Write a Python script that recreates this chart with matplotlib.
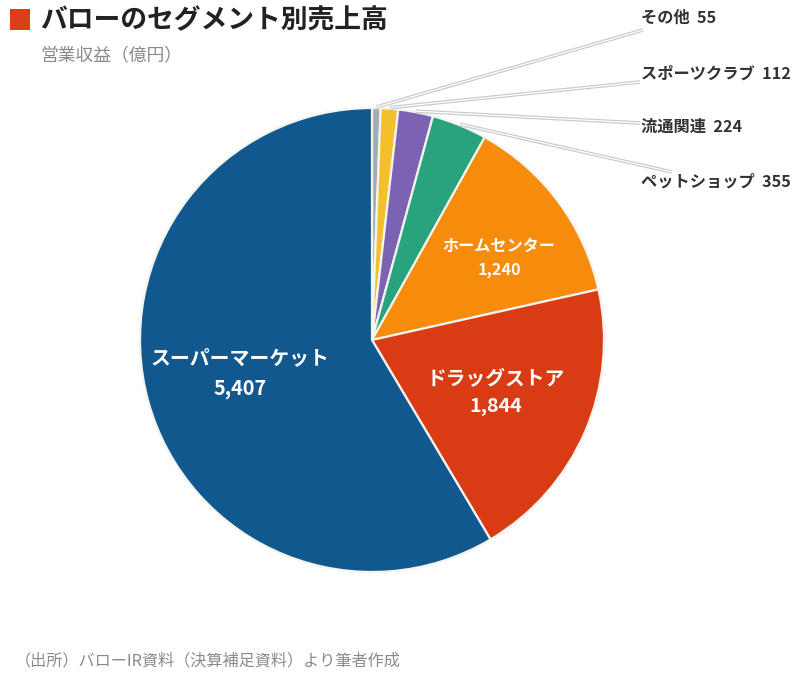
import matplotlib
matplotlib.use("Agg")
import numpy as np
import matplotlib.pyplot as plt
from matplotlib.patches import Rectangle

plt.rcParams['font.family'] = ['Noto Sans CJK JP', 'DejaVu Sans']

# segment data (clockwise from 12 o'clock)
segments = ["その他", "スポーツクラブ", "流通関連", "ペットショップ",
            "ホームセンター", "ドラッグストア", "スーパーマーケット"]
values = [55, 112, 224, 355, 1240, 1844, 5407]
colors = ["#a3adb4", "#f3c02c", "#7b62b3", "#29a37d",
          "#f78b0c", "#d93b15", "#11588f"]

W, H = 800, 677
fig = plt.figure(figsize=(W / 100, H / 100), dpi=100)
ax = fig.add_axes([0, 0, 1, 1])


def py(y):
    return H - y


cx, cy, R = 372, py(340), 232
wedges, _ = ax.pie(values, colors=colors, startangle=90, counterclock=False,
                   center=(cx, cy), radius=R,
                   wedgeprops=dict(edgecolor="#f4f4ee", linewidth=1.6))
ax.set_xlim(0, W)
ax.set_ylim(0, H)
ax.set_aspect("equal")
ax.axis("off")

# inner labels
inner = {4: (499, 258, 11.6), 5: (496, 393, 14.2), 6: (240, 373, 14.3)}
for i, (x, y, fs) in inner.items():
    ax.text(x, py(y), f"{segments[i]}\n{values[i]:,}", color="white",
            fontsize=fs, fontweight="bold", ha="center", va="center",
            linespacing=1.55)

# outer labels with leader lines
label_y = [18, 74, 127, 181]
line_end = [(643, 30), (640, 82), (640, 123), (672, 172)]
for i in range(4):
    w = wedges[i]
    ang = np.deg2rad((w.theta1 + w.theta2) / 2)
    sx, sy = cx + (R + 1) * np.cos(ang), cy + (R + 1) * np.sin(ang)
    ex, ey = line_end[i]
    ax.plot([sx, ex], [sy, py(ey)], color="#c9c9c9", lw=2.6,
            solid_capstyle="butt", zorder=5)
    ax.plot([sx, ex], [sy, py(ey)], color="white", lw=0.9,
            solid_capstyle="butt", zorder=6)
    ax.text(641, py(label_y[i]), f"{segments[i]}  {values[i]}",
            color="#333333", fontsize=11.7, fontweight="bold",
            ha="left", va="center")

# title block
ax.add_patch(Rectangle((10, py(30)), 20, 21, color="#d9401a", lw=0))
ax.text(40, py(20), "バローのセグメント別売上高", fontsize=19.3,
        fontweight="bold", color="#222222", ha="left", va="center")
ax.text(40, py(56), "営業収益（億円）", fontsize=12.8, color="#8a8a8a",
        ha="left", va="center")
ax.text(15, py(661), "（出所）バローIR資料（決算補足資料）より筆者作成",
        fontsize=11.6, color="#8a8a8a", ha="left", va="center")

fig.savefig("out.png", dpi=100, facecolor="white")
